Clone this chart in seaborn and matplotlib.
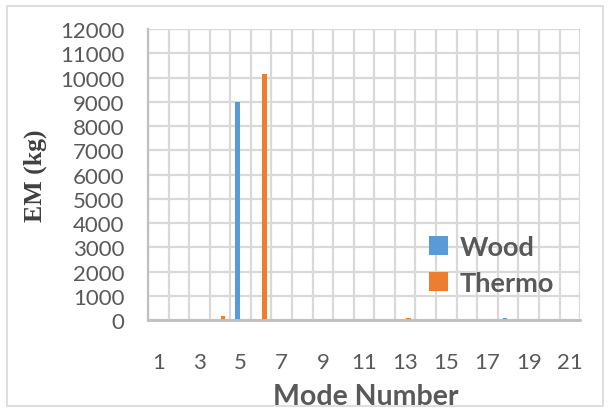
import matplotlib
matplotlib.use("Agg")
import matplotlib.pyplot as plt
import seaborn as sns
import pandas as pd
from matplotlib.patches import Rectangle

# Mode numbers and embodied mass per material
modes = list(range(1, 22))
wood = [0, 0, 0, 0, 9000, 0, 0, 0, 0, 0, 0, 0, 0, 0, 0, 0, 0, 80, 0, 0, 0]
thermo = [0, 0, 0, 150, 0, 10150, 15, 0, 0, 0, 0, 0, 80, 0, 0, 0, 0, 0, 20, 20, 20]
series_names = ["Wood", "Thermo"]
y_ticks = list(range(0, 12001, 1000))
x_tick_labels = [str(m) if m % 2 == 1 else "" for m in modes]

df = pd.DataFrame({
    "Mode": modes * 2,
    "EM": wood + thermo,
    "Material": [series_names[0]] * len(modes) + [series_names[1]] * len(modes),
})

sns.set_theme(style="white")
plt.rcParams["font.family"] = ["Lato", "DejaVu Sans"]

fig = plt.figure(figsize=(6.1, 4.14), dpi=100)
ax = fig.add_axes([0.2426, 0.2246, 0.7084, 0.7029])

palette = {"Wood": "#5b9bd5", "Thermo": "#ed7d31"}
sns.barplot(data=df, x="Mode", y="EM", hue="Material", palette=palette,
            width=0.62, gap=0.3, ax=ax, saturation=1, linewidth=0)

ax.set_xlim(-0.5, len(modes) - 0.5)
ax.set_ylim(0, 12000)
ax.set_yticks(y_ticks)
ax.set_yticklabels([str(v) for v in y_ticks])
ax.set_xticks(range(len(modes)))
ax.set_xticklabels(x_tick_labels)

# Gridlines at category boundaries and every 1000 kg
for b in range(len(modes) + 1):
    ax.axvline(b - 0.5, color="#d9d9d9", lw=1.6, zorder=0)
for v in y_ticks:
    ax.axhline(v, color="#d9d9d9", lw=1.6, zorder=0)

for side in ["top", "right"]:
    ax.spines[side].set_visible(False)
ax.spines["left"].set_color("#bfbfbf")
ax.spines["left"].set_linewidth(1.6)
ax.spines["bottom"].set_color("#bfbfbf")
ax.spines["bottom"].set_linewidth(2.0)
ax.spines["bottom"].set_zorder(5)

ax.tick_params(axis="both", length=0, labelsize=16, colors="#595959")
ax.tick_params(axis="x", pad=23)
ax.tick_params(axis="y", pad=17)

ax.set_xlabel("Mode Number", fontsize=20.5, fontweight="bold", color="#595959")
ax.xaxis.set_label_coords(0.505, -0.215)
ax.set_ylabel("EM (kg)", fontsize=18.5, fontweight="bold", color="#404040",
              family=["Liberation Serif", "DejaVu Serif"])
ax.yaxis.set_label_coords(-0.234, 0.5)

leg = ax.legend(loc="lower left", bbox_to_anchor=(0.65, 0.085), frameon=False,
                prop={"size": 19.5, "weight": "bold"}, handlelength=0.7,
                handleheight=0.7, handletextpad=0.45, labelspacing=0.45,
                borderpad=0, borderaxespad=0)
for t in leg.get_texts():
    t.set_color("#595959")

# Light outer frame
fig.patches.append(Rectangle((7 / 610, 7 / 414), 596 / 610, 400 / 414,
                             transform=fig.transFigure, fill=False,
                             edgecolor="#d9d9d9", lw=1.2))

fig.savefig("out.png", dpi=100)
